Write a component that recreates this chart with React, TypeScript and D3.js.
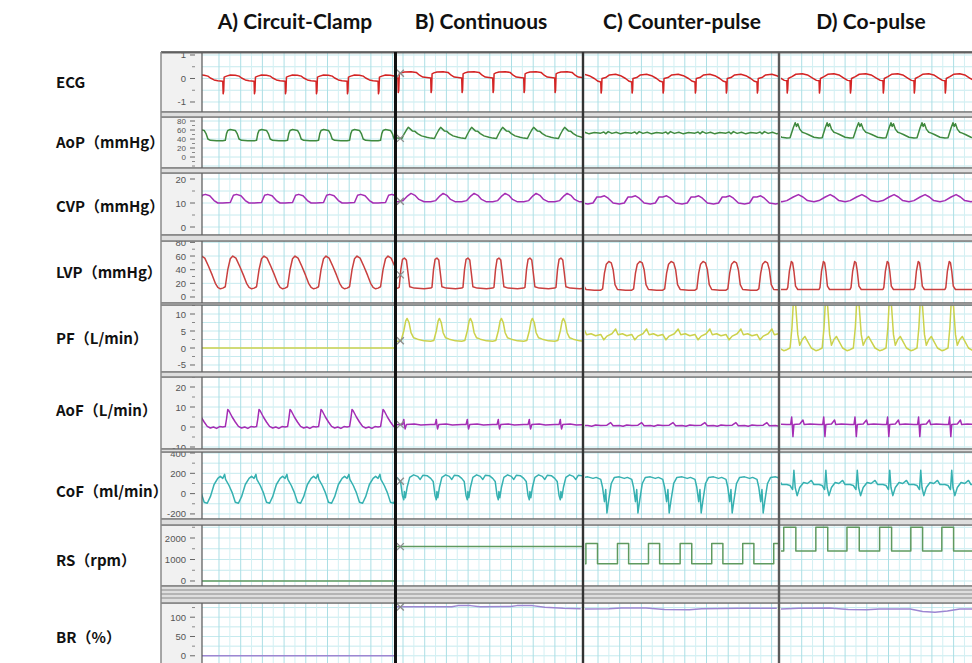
import React from "react";
import * as d3 from "d3";

type Pt = [number, number];

// Protocol sections shown side by side, and how many seconds each one spans
const SECTION_TITLES = ["A) Circuit-Clamp", "B) Continuous", "C) Counter-pulse", "D) Co-pulse"];
const SECTION_SECONDS = [3.1, 2.98, 3.11, 3.1];

// R-wave times (s) inside each section; a beat template is stretched between consecutive R waves
const R_WAVES_A = [-0.165, 0.335, 0.84, 1.34, 1.84, 2.34, 2.84];
const R_WAVES_B = [-0.47, 0.03, 0.56, 1.06, 1.56, 2.06, 2.56];
const R_WAVES_C = [-0.25, 0.27, 0.77, 1.27, 1.79, 2.29, 2.79];
const R_WAVES_D = [-0.39, 0.11, 0.63, 1.13, 1.66, 2.16, 2.66];

const CHANNEL_LABELS = [
  "ECG",
  "AoP（mmHg）",
  "CVP（mmHg）",
  "LVP（mmHg）",
  "PF（L/min）",
  "AoF（L/min）",
  "CoF（ml/min）",
  "RS（rpm）",
  "BR（%）",
];

const ECG_TICKS = [-1, 0, 1];
const AOP_TICKS = [0, 20, 40, 60, 80];
const CVP_TICKS = [0, 10, 20];
const LVP_TICKS = [0, 20, 40, 60, 80];
const PF_TICKS = [-5, 0, 5, 10];
const AOF_TICKS = [-10, 0, 10, 20];
const COF_TICKS = [-200, 0, 200, 400];
const RS_TICKS = [0, 1000, 2000];
const BR_TICKS = [0, 50, 100];

// One cardiac beat per section: [seconds after R wave (0..0.5), value]
const ECG_BEATS: Pt[][] = [
  [[0, -0.12], [0.006, -0.65], [0.014, -0.55], [0.022, 0.06], [0.06, 0.1], [0.12, 0.15], [0.2, 0.14], [0.26, 0.1], [0.3, 0.02], [0.36, -0.06], [0.42, -0.1], [0.5, -0.12]],
  [[0, 0.02], [0.006, -0.6], [0.014, -0.5], [0.022, 0.2], [0.05, 0.24], [0.1, 0.28], [0.2, 0.29], [0.28, 0.26], [0.33, 0.14], [0.38, 0.06], [0.44, 0.04], [0.5, 0.02]],
  [[0, -0.15], [0.006, -0.62], [0.014, -0.5], [0.02, 0.0], [0.08, 0.04], [0.14, 0.15], [0.24, 0.18], [0.32, 0.12], [0.4, 0.0], [0.46, -0.12], [0.5, -0.15]],
  [[0, -0.1], [0.006, -0.62], [0.014, -0.45], [0.022, 0.0], [0.08, 0.08], [0.14, 0.18], [0.24, 0.2], [0.32, 0.15], [0.4, 0.02], [0.46, -0.08], [0.5, -0.1]],
];

const AOP_BEATS: Pt[][] = [
  [[0, 36], [0.04, 37], [0.06, 52], [0.08, 59], [0.12, 61], [0.2, 59], [0.23, 52], [0.26, 40], [0.3, 37], [0.4, 36], [0.5, 36]],
  [[0, 42], [0.06, 41], [0.09, 50], [0.13, 60], [0.16, 66], [0.19, 62], [0.22, 58], [0.26, 57], [0.3, 52], [0.36, 47], [0.44, 44], [0.5, 42]],
  [[0, 53], [0.05, 55.5], [0.08, 51.5], [0.12, 56.5], [0.18, 52.5], [0.25, 55], [0.32, 51.5], [0.4, 54.5], [0.5, 53]],
  [[0, 42], [0.05, 43], [0.1, 65], [0.13, 76], [0.15, 68], [0.17, 74], [0.2, 62], [0.24, 55], [0.28, 53], [0.33, 50], [0.42, 44], [0.5, 42]],
];

const CVP_BEATS: Pt[][] = [
  [[0, 10], [0.12, 10.2], [0.17, 13.2], [0.22, 13.6], [0.29, 13], [0.36, 11], [0.42, 10], [0.5, 10]],
  [[0, 10.5], [0.08, 11], [0.15, 13], [0.2, 14], [0.26, 13.2], [0.32, 11.5], [0.4, 10.5], [0.5, 10.5]],
  [[0, 12.5], [0.06, 13], [0.12, 12], [0.2, 10], [0.3, 9.6], [0.38, 10], [0.44, 12.5], [0.5, 12.5]],
  [[0, 11], [0.1, 12.5], [0.18, 13.5], [0.25, 12.5], [0.32, 11], [0.42, 10.5], [0.5, 11]],
];

const LVP_BEATS: Pt[][] = [
  [[0, 13], [0.04, 15], [0.08, 40], [0.12, 56], [0.16, 60], [0.21, 57], [0.27, 45], [0.33, 32], [0.38, 20], [0.42, 14], [0.46, 12], [0.5, 13]],
  [[0, 13], [0.02, 14], [0.045, 40], [0.07, 55], [0.1, 57], [0.13, 54], [0.155, 35], [0.18, 15], [0.25, 13], [0.4, 12], [0.5, 13]],
  [[0, 10], [0.03, 12], [0.06, 35], [0.09, 48], [0.13, 52], [0.17, 50], [0.2, 40], [0.23, 18], [0.27, 11], [0.4, 10], [0.5, 10]],
  [[0, 11], [0.015, 14], [0.04, 38], [0.07, 52], [0.09, 50], [0.11, 38], [0.135, 16], [0.17, 11], [0.3, 11], [0.5, 11]],
];

const PF_BEATS: Pt[][] = [
  [[0, 0], [0.5, 0]],
  [[0, 2], [0.05, 2.2], [0.09, 5], [0.12, 8], [0.14, 8.7], [0.17, 7.5], [0.2, 4.5], [0.24, 3], [0.3, 2.6], [0.4, 2.1], [0.5, 2]],
  [[0, 4], [0.05, 2.4], [0.1, 3.5], [0.18, 4.2], [0.24, 5.6], [0.28, 3.9], [0.35, 4.2], [0.42, 3.6], [0.5, 4]],
  [[0, -0.5], [0.05, 0], [0.08, 6], [0.1, 13], [0.12, 15], [0.14, 12], [0.17, 4], [0.2, 0.8], [0.24, 2.5], [0.28, 3.4], [0.32, 2], [0.38, 0], [0.45, -0.8], [0.5, -0.5]],
];

const AOF_BEATS: Pt[][] = [
  [[0, 0], [0.04, 0.2], [0.06, 4], [0.08, 8.8], [0.1, 8], [0.15, 5], [0.2, 2.5], [0.25, 0.3], [0.3, -0.5], [0.35, 0], [0.4, -0.7], [0.45, 0.2], [0.5, 0]],
  [[0, 1.2], [0.07, 1.2], [0.09, 3.8], [0.1, 1], [0.11, -1], [0.13, 1.2], [0.25, 1.5], [0.35, 1], [0.5, 1.2]],
  [[0, 0.8], [0.1, 0.9], [0.16, 2.2], [0.2, 0.6], [0.3, 0.8], [0.36, 0.4], [0.42, 1], [0.5, 0.8]],
  [[0, 1.3], [0.06, 1.3], [0.075, 5], [0.085, 0.5], [0.095, -4.8], [0.11, 1.3], [0.2, 1.5], [0.25, 3.5], [0.27, 1.2], [0.36, 1.5], [0.5, 1.3]],
];

const COF_BEATS: Pt[][] = [
  [[0, 150], [0.03, 190], [0.045, 140], [0.1, 80], [0.15, 10], [0.2, -85], [0.25, -95], [0.3, -30], [0.36, 90], [0.42, 150], [0.46, 170], [0.5, 150]],
  [[0, 150], [0.04, 120], [0.07, -20], [0.09, -60], [0.1, 20], [0.115, -40], [0.14, 60], [0.18, 160], [0.24, 185], [0.3, 170], [0.34, 140], [0.38, 180], [0.45, 175], [0.5, 150]],
  [[0, 140], [0.03, 60], [0.06, -80], [0.08, 40], [0.1, -190], [0.13, -60], [0.17, 100], [0.22, 160], [0.3, 165], [0.38, 150], [0.43, 160], [0.5, 140]],
  [[0, 90], [0.05, 80], [0.09, 40], [0.11, 230], [0.13, 60], [0.16, -20], [0.2, 60], [0.26, 110], [0.32, 100], [0.38, 130], [0.42, 90], [0.5, 90]],
];

const RS_BEATS: Pt[][] = [
  [[0, 0], [0.5, 0]],
  [[0, 1600], [0.5, 1600]],
  [[0, 800], [0.27, 800], [0.27, 1750], [0.45, 1750], [0.45, 800], [0.5, 800]],
  [[0, 2500], [0.14, 2500], [0.14, 1400], [0.45, 1400], [0.45, 2500], [0.5, 2500]],
];

// Blood-flow ratio drifts slowly, so it is kept as plain [s, %] series
const BR_SERIES: Pt[][] = [
  [[0, 0], [3.1, 0]],
  [[0, 127], [0.9, 127], [1.0, 130], [1.2, 130], [1.35, 127], [1.85, 128], [1.95, 130], [2.2, 130], [2.4, 126], [2.7, 123], [2.98, 122]],
  [[0, 121], [0.4, 122], [0.6, 124], [1.0, 124], [1.3, 120], [1.7, 119], [1.9, 122], [2.5, 123], [3.11, 123]],
  [[0, 121], [0.3, 123], [0.8, 124], [1.1, 120], [1.4, 119], [1.6, 121], [2.1, 121], [2.3, 115], [2.5, 113], [2.7, 116], [2.9, 121], [3.1, 121]],
];

const R_WAVES = [R_WAVES_A, R_WAVES_B, R_WAVES_C, R_WAVES_D];

// ---- layout ----
const W = 972;
const H = 663;
const STRIP_X0 = 161;
const PLOT_X0 = 202;
const PLOT_X1 = 972;
const FRAME_TOP = 52;
const SECTION_X0 = [202, 396, 584, 780];
const SECTION_CLIP: [number, number][] = [[202, 394], [397, 582], [585, 778], [781, 972]];
const PX_PER_S = 62;
const GRID_OFFSET = [0.274, 0.113, 0.226, 0.0];
const DIVIDERS = [
  { x: 395.5, w: 3, c: "#111" },
  { x: 583, w: 2.4, c: "#333" },
  { x: 779, w: 2.4, c: "#5a5a5a" },
];
const TITLE_X = [295, 481, 682, 871];

type Row = {
  label: string;
  ticks: number[];
  series: Pt[][];
  color: string;
  box: [number, number];
  domain: [number, number];
  minor: number;
  grid: number;
  labelY: number;
  tickFont: number;
};

function beatSeries(rTimes: number[], beat: Pt[]): Pt[] {
  const out: Pt[] = [];
  rTimes.forEach((r, k) => {
    const next = k + 1 < rTimes.length ? rTimes[k + 1] : r + 0.5;
    const s = (next - r) / 0.5;
    beat.forEach(([p, v]) => out.push([r + p * s, v]));
  });
  return out;
}

const fromBeats = (beats: Pt[][]) => beats.map((b, j) => beatSeries(R_WAVES[j], b));

const ROWS: Row[] = [
  { label: CHANNEL_LABELS[0], ticks: ECG_TICKS, series: fromBeats(ECG_BEATS), color: "#d42424", box: [53, 112], domain: [-1.426, 1.085], minor: 0.5, grid: 0.5, labelY: 81, tickFont: 9.5 },
  { label: CHANNEL_LABELS[1], ticks: AOP_TICKS, series: fromBeats(AOP_BEATS), color: "#3f8a3f", box: [117, 168], domain: [-24.4, 88.9], minor: 10, grid: 20, labelY: 141, tickFont: 8 },
  { label: CHANNEL_LABELS[2], ticks: CVP_TICKS, series: fromBeats(CVP_BEATS), color: "#a42db4", box: [173, 235], domain: [-3.33, 22.5], minor: 5, grid: 5, labelY: 205, tickFont: 9.5 },
  { label: CHANNEL_LABELS[3], ticks: LVP_TICKS, series: fromBeats(LVP_BEATS), color: "#c9403f", box: [241, 303], domain: [-8.8, 82], minor: 10, grid: 20, labelY: 271, tickFont: 9.5 },
  { label: CHANNEL_LABELS[4], ticks: PF_TICKS, series: fromBeats(PF_BEATS), color: "#cbd24c", box: [305, 372], domain: [-7.06, 12.65], minor: 2.5, grid: 2.5, labelY: 337, tickFont: 9.5 },
  { label: CHANNEL_LABELS[5], ticks: AOF_TICKS, series: fromBeats(AOF_BEATS), color: "#a42db4", box: [377, 449], domain: [-11, 25], minor: 5, grid: 5, labelY: 409, tickFont: 9.5 },
  { label: CHANNEL_LABELS[6], ticks: COF_TICKS, series: fromBeats(COF_BEATS), color: "#36b1b1", box: [452, 519], domain: [-250, 410], minor: 100, grid: 100, labelY: 490, tickFont: 9.5 },
  { label: CHANNEL_LABELS[7], ticks: RS_TICKS, series: fromBeats(RS_BEATS), color: "#5f9a5f", box: [525, 586], domain: [-232.6, 2605], minor: 500, grid: 500, labelY: 559, tickFont: 9.5 },
  { label: CHANNEL_LABELS[8], ticks: BR_TICKS, series: BR_SERIES, color: "#9d86d2", box: [603, 672], domain: [-42, 136.8], minor: 25, grid: 25, labelY: 636, tickFont: 9.5 },
];

function valueAt(series: Pt[], t: number): number {
  const i = d3.bisector((d: Pt) => d[0]).left(series, t);
  if (i <= 0) return series[0][1];
  if (i >= series.length) return series[series.length - 1][1];
  const [t0, v0] = series[i - 1];
  const [t1, v1] = series[i];
  return t1 === t0 ? v1 : v0 + ((v1 - v0) * (t - t0)) / (t1 - t0);
}

export default function App() {
  const xScales = SECTION_X0.map((x0, j) =>
    d3.scaleLinear().domain([0, SECTION_SECONDS[j]]).range([x0, x0 + SECTION_SECONDS[j] * PX_PER_S])
  );

  const gaps: [number, number][] = [];
  for (let i = 0; i < ROWS.length - 1; i++) gaps.push([ROWS[i].box[1], ROWS[i + 1].box[0]]);

  return (
    <svg
      width={W}
      height={H}
      viewBox={`0 0 ${W} ${H}`}
      style={{ position: "absolute", left: 0, top: 0, display: "block", background: "#fff" }}
    >
      <defs>
        {ROWS.map((row, i) => (
          <clipPath id={`rowclip${i}`} key={`rc${i}`}>
            <rect x={STRIP_X0} y={row.box[0]} width={PLOT_X1 - STRIP_X0} height={row.box[1] - row.box[0]} />
          </clipPath>
        ))}
        {ROWS.map((row, i) =>
          SECTION_CLIP.map(([a, b], j) => (
            <clipPath id={`cl${i}-${j}`} key={`cl${i}-${j}`}>
              <rect x={a} y={row.box[0] + 0.5} width={b - a} height={row.box[1] - row.box[0] - 1} />
            </clipPath>
          ))
        )}
      </defs>

      {/* section titles */}
      {SECTION_TITLES.map((t, j) => (
        <text
          key={t}
          x={TITLE_X[j]}
          y={29}
          textAnchor="middle"
          fontFamily="Lato, 'Open Sans', sans-serif"
          fontWeight={700}
          fontSize={21}
          fill="#111"
        >
          {t}
        </text>
      ))}

      {/* channel names */}
      {ROWS.map((row) => (
        <text
          key={row.label}
          x={56}
          y={row.labelY}
          dominantBaseline="central"
          fontFamily="'Noto Sans CJK SC', 'Noto Sans', sans-serif"
          fontWeight={700}
          fontSize={15}
          fill="#111"
        >
          {row.label}
        </text>
      ))}

      {ROWS.map((row, i) => {
        const y = d3.scaleLinear().domain(row.domain).range([row.box[1], row.box[0]]);
        const [top, bottom] = row.box;
        const gridVals = d3.range(Math.ceil(row.domain[0] / row.grid) * row.grid, row.domain[1] + 1e-9, row.grid);
        const minorVals = d3
          .range(Math.ceil(row.domain[0] / row.minor) * row.minor, row.domain[1] + 1e-9, row.minor)
          .filter((v) => !row.ticks.some((t) => Math.abs(t - v) < 1e-9));
        return (
          <g key={`row${i}`}>
            {/* axis strip */}
            <rect x={STRIP_X0} y={top} width={PLOT_X0 - STRIP_X0} height={bottom - top} fill="#f1f1f1" />
            {/* plot background */}
            <rect x={PLOT_X0} y={top} width={PLOT_X1 - PLOT_X0} height={bottom - top} fill="#fff" />

            <g clipPath={`url(#rowclip${i})`}>
              {/* horizontal grid */}
              {gridVals.map((v) => (
                <line key={`hg${v}`} x1={PLOT_X0} x2={PLOT_X1} y1={y(v)} y2={y(v)} stroke="#c6eaee" strokeWidth={1} />
              ))}
              {/* vertical grid per section */}
              {xScales.map((xs, j) => {
                const [a, b] = SECTION_CLIP[j];
                const lines = d3.range(GRID_OFFSET[j], SECTION_SECONDS[j] + 0.01, 0.175);
                return lines.map((t, k) => {
                  const xx = xs(t);
                  if (xx < a + 1 || xx > b - 1) return null;
                  return (
                    <line
                      key={`vg${j}-${k}`}
                      x1={xx}
                      x2={xx}
                      y1={top}
                      y2={bottom}
                      stroke={k % 2 === 0 ? "#acdfe5" : "#d3f0f3"}
                      strokeWidth={1}
                    />
                  );
                });
              })}

              {/* tick labels and marks */}
              {row.ticks.map((v) => (
                <g key={`tk${v}`}>
                  <text
                    x={186}
                    y={y(v)}
                    textAnchor="end"
                    dominantBaseline="central"
                    fontFamily="'Liberation Sans', Arial, sans-serif"
                    fontSize={row.tickFont}
                    fill="#555"
                  >
                    {String(v)}
                  </text>
                  <line x1={190} x2={195} y1={y(v)} y2={y(v)} stroke="#666" strokeWidth={1} />
                </g>
              ))}
              {minorVals.map((v) => (
                <line key={`mt${v}`} x1={192} x2={195} y1={y(v)} y2={y(v)} stroke="#888" strokeWidth={1} />
              ))}
            </g>

            {/* traces */}
            {row.series.map((s, j) => {
              const xs = xScales[j];
              const line = d3
                .line<Pt>()
                .x((d) => xs(d[0]))
                .y((d) => y(d[1]));
              return (
                <path
                  key={`tr${j}`}
                  d={line(s) || ""}
                  fill="none"
                  stroke={row.color}
                  strokeWidth={1.5}
                  strokeLinejoin="round"
                  clipPath={`url(#cl${i}-${j})`}
                />
              );
            })}

            {/* start marker of section B */}
            {(() => {
              const t0 = 0.07;
              const mx = xScales[1](t0);
              const my = Math.max(top + 4, Math.min(bottom - 4, y(valueAt(row.series[1], t0))));
              return (
                <g stroke="#8c8c8c" strokeWidth={1.3}>
                  <line x1={mx - 3.5} x2={mx + 3.5} y1={my - 3.5} y2={my + 3.5} />
                  <line x1={mx - 3.5} x2={mx + 3.5} y1={my + 3.5} y2={my - 3.5} />
                </g>
              );
            })()}

            {/* panel frame */}
            <line x1={STRIP_X0} x2={PLOT_X1} y1={top} y2={top} stroke="#6a6a6a" strokeWidth={1.2} />
            <line x1={STRIP_X0} x2={PLOT_X1} y1={bottom} y2={bottom} stroke="#6a6a6a" strokeWidth={1.2} />
            <line x1={PLOT_X0} x2={PLOT_X0} y1={top} y2={bottom} stroke="#555" strokeWidth={1.2} />
          </g>
        );
      })}

      {/* separators between channels */}
      {gaps.map(([a, b], k) => {
        const h = b - a;
        if (h <= 0) return null;
        const inner = h > 10 ? d3.range(a + 4, b - 1, 4) : [];
        return (
          <g key={`gap${k}`}>
            <rect x={STRIP_X0} y={a + 0.6} width={PLOT_X1 - STRIP_X0} height={h - 1.2} fill="#dedede" />
            {inner.map((yy) => (
              <line key={yy} x1={STRIP_X0} x2={PLOT_X1} y1={yy} y2={yy} stroke="#8a8a8a" strokeWidth={1} />
            ))}
            <line x1={STRIP_X0} x2={PLOT_X1} y1={a} y2={a} stroke="#6a6a6a" strokeWidth={1.2} />
            <line x1={STRIP_X0} x2={PLOT_X1} y1={b} y2={b} stroke="#6a6a6a" strokeWidth={1.2} />
          </g>
        );
      })}

      {/* outer frame */}
      <line x1={STRIP_X0} x2={PLOT_X1} y1={FRAME_TOP} y2={FRAME_TOP} stroke="#444" strokeWidth={1.6} />
      <line x1={STRIP_X0} x2={STRIP_X0} y1={FRAME_TOP} y2={H} stroke="#8a8a8a" strokeWidth={1.5} />

      {/* section dividers */}
      {DIVIDERS.map((d) => (
        <line key={d.x} x1={d.x} x2={d.x} y1={FRAME_TOP} y2={H} stroke={d.c} strokeWidth={d.w} />
      ))}
    </svg>
  );
}
